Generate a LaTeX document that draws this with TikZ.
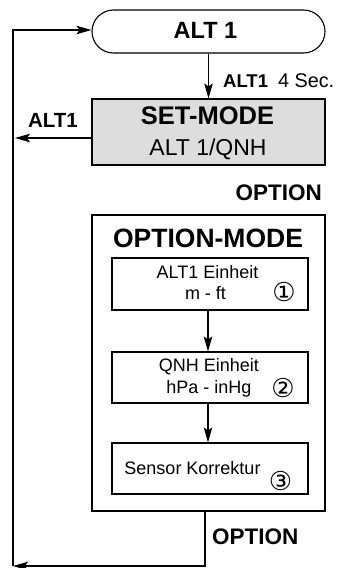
\documentclass[tikz,border=0pt]{standalone}
\usepackage{fontspec}
\setmainfont{Liberation Sans}
\newfontfamily\circfont{DejaVu Sans}
\usetikzlibrary{arrows.meta,calc}
\definecolor{boxgray}{RGB}{221,221,221}
\begin{document}
\begin{tikzpicture}[x=1pt,y=-1pt,
  line/.style={line width=1.1pt},
  arr/.style={line, -{Stealth[length=15pt,width=8.5pt,inset=3pt]}},
  box/.style={draw, line width=1.1pt, inner sep=0pt},
  txt/.style={anchor=base, inner sep=0pt},
  circ/.style={inner sep=0pt, font=\circfont\fontsize{26}{26}\selectfont}
]
\useasboundingbox (0,0) rectangle (339,568);

% top stadium
\node[box, rounded corners=21.5pt, minimum width=233pt, minimum height=43pt] (alt) at (208.5,31.5) {};
\node[txt, font=\bfseries\fontsize{23.5}{23.5}\selectfont] (altlbl) at (205.5,38.5) {ALT 1};

% set-mode
\node[box, fill=boxgray, minimum width=233pt, minimum height=66pt] (set) at (208.5,132) {};
\node[txt, font=\bfseries\fontsize{25.5}{25.5}\selectfont] (settitle) at (207.5,124) {SET-MODE};
\node[txt, font=\fontsize{23}{23}\selectfont] (setsub) at (208,155) {ALT 1/QNH};

\draw[arr] (alt.south) -- (set.north);
\node[txt, anchor=base west] (lbl4) at (223,87) {{\bfseries\fontsize{18.5}{18.5}\selectfont ALT1}\hspace{10pt}{\fontsize{19.8}{19.8}\selectfont 4 Sec.}};

% left return from set-mode
\coordinate (lt) at (15,138);
\draw[arr] (set.west |- lt) -- (lt);
\node[txt, font=\bfseries\fontsize{20.5}{20.5}\selectfont] (altleft) at (53,127) {ALT1};

\node[txt, anchor=base east, font=\bfseries\fontsize{22.5}{22.5}\selectfont] (opt1) at (322,200) {OPTION};

% option-mode
\node[box, minimum width=233pt, minimum height=296pt] (opt) at (208.5,363) {};
\node[txt, font=\bfseries\fontsize{26.5}{26.5}\selectfont] (opttitle) at (208,247) {OPTION-MODE};

\node[box, minimum width=196pt, minimum height=52pt] (b1) at (210,284) {};
\node[txt, font=\fontsize{18}{18}\selectfont] (b1a) at (207.5,278) {ALT1 Einheit};
\node[txt, font=\fontsize{18}{18}\selectfont] (b1b) at (205.5,299) {m - ft};
\node[circ] (c1) at (284,292) {①};

\node[box, minimum width=196pt, minimum height=51pt] (b2) at (210,377.5) {};
\node[txt, font=\fontsize{18}{18}\selectfont] (b2a) at (209,371) {QNH Einheit};
\node[txt, font=\fontsize{18}{18}\selectfont] (b2b) at (209,393) {hPa - inHg};
\node[circ] (c2) at (283,388) {②};

\node[box, minimum width=196pt, minimum height=51pt] (b3) at (210,468.5) {};
\node[txt, font=\fontsize{18}{18}\selectfont] (b3a) at (192.5,474) {Sensor Korrektur};
\node[circ] (c3) at (280.5,481) {③};

\draw[arr] ([xshift=-2pt]b1.south) -- ([xshift=-2pt]b2.north);
\draw[arr] ([xshift=-2pt]b2.south) -- ([xshift=-2pt]b3.north);

% loop back
\coordinate (bl) at (13,566);
\coordinate (tl) at (13,30);
\draw[arr] ([xshift=-3.5pt]opt.south) |- (bl);
\draw[arr] (bl) -- (tl) -- (tl -| alt.west);
\node[txt, anchor=base west, font=\bfseries\fontsize{22.5}{22.5}\selectfont] (opt2) at (212,544) {OPTION};
\end{tikzpicture}
\end{document}
